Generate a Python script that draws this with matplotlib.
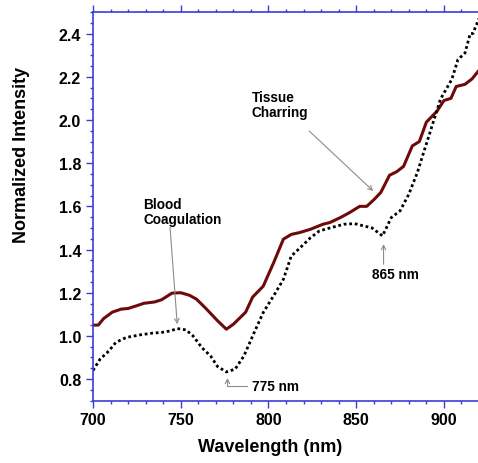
import numpy as np
import matplotlib
matplotlib.use('Agg')
from matplotlib import pyplot as plt
from matplotlib.ticker import MultipleLocator

plt.rcParams['font.family'] = ['Liberation Sans', 'DejaVu Sans']
plt.rcParams['font.weight'] = 'bold'

# solid curve (tissue charring)
solid_wl = [700, 703, 706, 711, 716, 720, 725, 729, 735, 739, 745, 750, 755, 759, 764,
            771, 776, 780, 787, 791, 797, 803, 808.5, 813, 818, 824, 831, 835, 841, 846,
            852, 856, 860, 864, 869, 873, 877, 882, 886, 890, 896, 900, 904, 907, 912,
            916, 920]
solid_val = [1.05, 1.05, 1.08, 1.11, 1.124, 1.127, 1.14, 1.151, 1.157, 1.167, 1.198, 1.20,
             1.188, 1.17, 1.13, 1.07, 1.031, 1.054, 1.11, 1.18, 1.23, 1.34, 1.448, 1.47,
             1.479, 1.494, 1.517, 1.525, 1.548, 1.57, 1.60, 1.60, 1.63, 1.664, 1.744, 1.76,
             1.785, 1.88, 1.90, 1.99, 2.04, 2.09, 2.10, 2.155, 2.165, 2.19, 2.23]

# dotted curve
dot_wl = [700, 704, 709, 713, 719, 727, 734, 739, 744, 748, 753, 757, 762, 767, 771, 776,
          781, 786, 791, 797, 804, 808.5, 813, 817, 824, 829, 835, 843, 849, 854, 859, 865,
          870, 875, 880, 885, 889, 892, 898, 904.5, 908, 912, 915, 916.5, 920]
dot_val = [0.84, 0.892, 0.93, 0.97, 0.993, 1.005, 1.013, 1.016, 1.023, 1.034, 1.028, 1.0,
           0.946, 0.907, 0.858, 0.833, 0.846, 0.907, 1.0, 1.108, 1.20, 1.262, 1.37, 1.40,
           1.455, 1.486, 1.50, 1.517, 1.52, 1.51, 1.50, 1.463, 1.548, 1.579, 1.656, 1.76,
           1.864, 1.94, 2.096, 2.188, 2.28, 2.31, 2.40, 2.40, 2.47]

axis_blue = '#3c3cd6'

fig = plt.figure(figsize=(4.78, 4.64), dpi=100)
ax = fig.add_axes([0.1946, 0.1343, 0.8075, 0.8377])

ax.plot(solid_wl, solid_val, color='#6e0a0a', lw=2.2, solid_capstyle='butt')
ax.plot(dot_wl, dot_val, color='black', lw=2.0, linestyle=(0, (1, 1)))

ax.set_xlim(700, 920)
ax.set_ylim(0.7, 2.5)
ax.xaxis.set_major_locator(MultipleLocator(50))
ax.xaxis.set_minor_locator(MultipleLocator(10))
ax.yaxis.set_major_locator(MultipleLocator(0.2))
ax.yaxis.set_minor_locator(MultipleLocator(0.05))
ax.yaxis.set_major_formatter(plt.FuncFormatter(lambda v, p: f'{v:.1f}'))

for s in ax.spines.values():
    s.set_color(axis_blue)
    s.set_linewidth(1.2)
ax.tick_params(which='both', direction='out', color=axis_blue, top=True, right=False,
               labelsize=11.5, width=1)
ax.tick_params(which='major', length=5)
ax.tick_params(which='minor', length=2.5)
for lab in ax.get_xticklabels() + ax.get_yticklabels():
    lab.set_fontweight('bold')

ax.set_xlabel('Wavelength (nm)', fontsize=13, fontweight='bold')
ax.set_ylabel('Normalized Intensity', fontsize=13, fontweight='bold')
ax.xaxis.set_label_coords(0.458, -0.117)
ax.yaxis.set_label_coords(-0.185, 0.635)
ax.xaxis.label.set_va('center')
ax.yaxis.label.set_va('center')

arrow = dict(arrowstyle='->', color='#8c8c8c', lw=0.8, shrinkA=0, shrinkB=0,
             mutation_scale=8)

ax.text(728.5, 1.645, 'Blood\nCoagulation', fontsize=9.8, fontweight='bold',
        va='top', ha='left', linespacing=1.15)
ax.annotate('', xy=(748.0, 1.054), xytext=(743.9, 1.503), arrowprops=arrow)

ax.text(790.4, 2.14, 'Tissue\nCharring', fontsize=9.8, fontweight='bold',
        va='top', ha='left', linespacing=1.15)
ax.annotate('', xy=(859.7, 1.671), xytext=(823.2, 1.949), arrowprops=arrow)

ax.text(858.8, 1.286, '865 nm', fontsize=9.8, fontweight='bold', va='center', ha='left')
ax.annotate('', xy=(865.6, 1.425), xytext=(865.6, 1.332), arrowprops=arrow)

ax.text(790.4, 0.766, '775 nm', fontsize=9.8, fontweight='bold', va='center', ha='left')
ax.annotate('', xy=(776.6, 0.805), xytext=(787.6, 0.766),
            arrowprops=dict(arrow, connectionstyle='angle,angleA=0,angleB=90,rad=0'))

plt.savefig('out.png', dpi=100)
